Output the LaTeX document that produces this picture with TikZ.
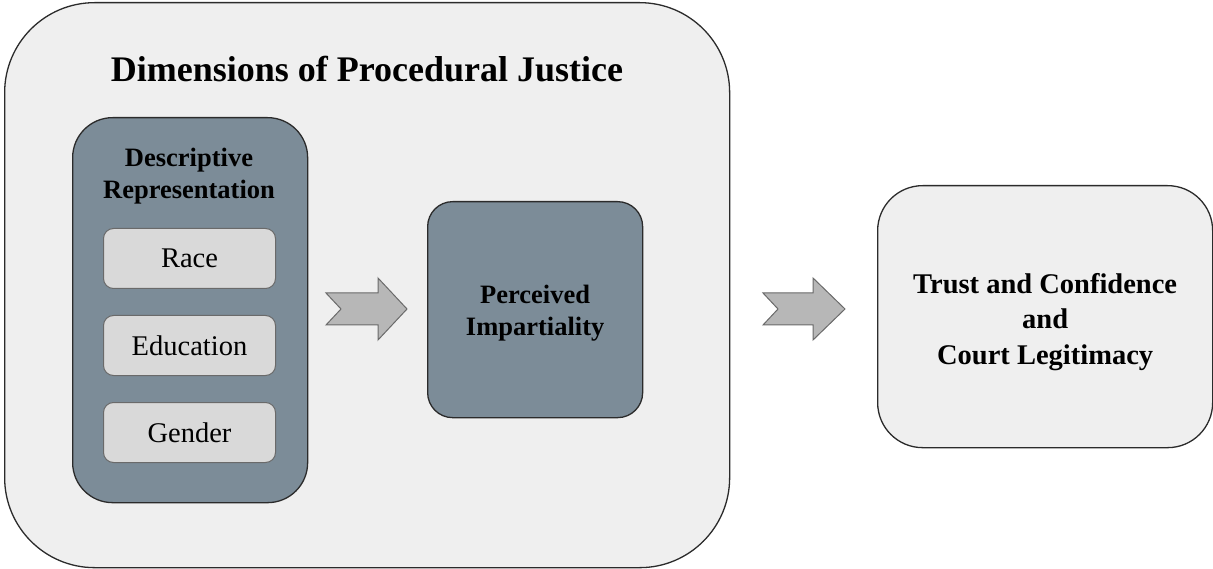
\documentclass[tikz,border=0pt]{standalone}
\usepackage{fontspec}
\setmainfont{Liberation Serif}
\definecolor{outerfill}{HTML}{EFEFEF}
\definecolor{slate}{HTML}{7C8C98}
\definecolor{itemfill}{HTML}{D9D9D9}
\definecolor{arrowfill}{HTML}{B7B7B7}
\definecolor{darkline}{HTML}{2B2B2B}
\definecolor{grayline}{HTML}{6A6A6A}
\begin{document}
\begin{tikzpicture}[x=1pt,y=-1pt,
  container/.style={draw=darkline, line width=1.3pt, inner sep=0pt, anchor=north west},
  item/.style={draw=grayline, line width=1pt, fill=itemfill, rounded corners=10pt,
    minimum width=172pt, minimum height=60pt, inner sep=0pt, anchor=north west,
    font=\fontsize{28.5}{34}\selectfont},
  headtext/.style={font=\bfseries\fontsize{26.5}{32}\selectfont, align=center},
  bigarrow/.style={draw=grayline, line width=1pt, fill=arrowfill, line join=miter}
]
\useasboundingbox (0,0) rectangle (1213,569);

% outer container
\node[container, fill=outerfill, rounded corners=90pt,
      minimum width=725pt, minimum height=565pt] (outer) at (4,2) {};
\node[anchor=base, font=\bfseries\fontsize{36}{43}\selectfont] (title) at (367,82)
  {Dimensions of Procedural Justice};

% descriptive representation
\node[container, fill=slate, rounded corners=40pt,
      minimum width=235pt, minimum height=385pt] (desc) at (72,117) {};
\node[anchor=base, headtext] (desct1) at (189,167) {Descriptive};
\node[anchor=base, headtext] (desct2) at (189,199) {Representation};

\node[item] (race) at (103,228) {Race};
\node[item] (edu) at (103,315) {Education};
\node[item] (gender) at (103,402) {Gender};

% perceived impartiality
\node[container, fill=slate, rounded corners=25pt,
      minimum width=215pt, minimum height=216pt] (imp) at (427,201) {};
\node[headtext] (impt) at ([yshift=-4pt]imp.center) {Perceived\\Impartiality};

% trust box
\node[container, fill=outerfill, rounded corners=45pt,
      minimum width=335pt, minimum height=262pt] (trust) at (877,185) {};
\node[font=\bfseries\fontsize{28.5}{35.5}\selectfont, align=center] (trustt)
  at ([yshift=-5pt]trust.center) {Trust and Confidence\\and\\Court Legitimacy};

% arrows
\draw[bigarrow] (326,293) -- (378,293) -- (378,278) -- (407,309) -- (378,340)
  -- (378,325) -- (326,325) -- (341,309) -- cycle;
\draw[bigarrow] (763,293) -- (813,293) -- (813,278) -- (845,309) -- (813,340)
  -- (813,325) -- (763,325) -- (778,309) -- cycle;
\end{tikzpicture}
\end{document}
